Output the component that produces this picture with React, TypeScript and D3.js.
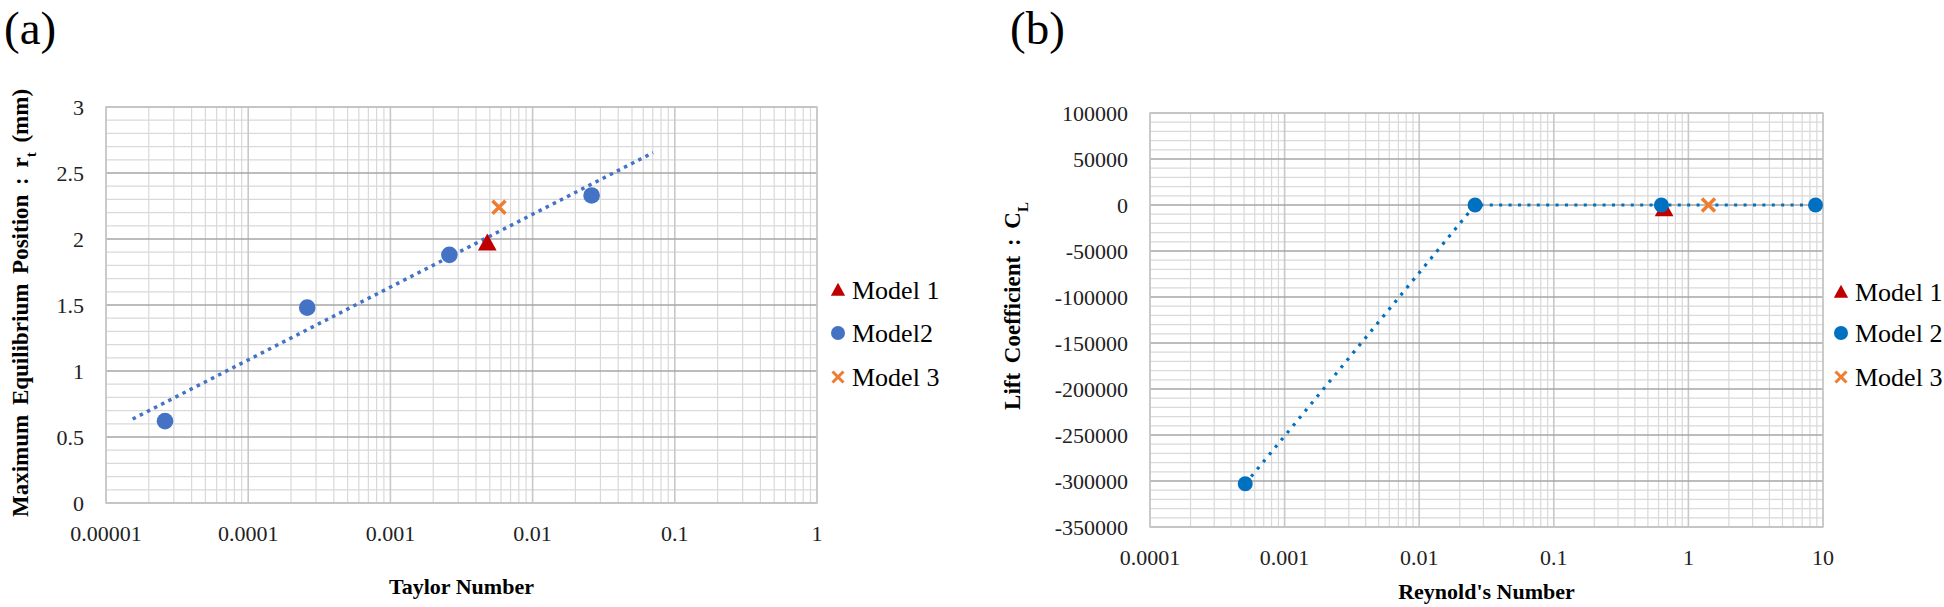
import React from 'react'
import * as d3 from 'd3'

// (a) Taylor number vs maximum equilibrium position
const taylorModel1 = [{ x: 0.0048, y: 1.97 }]
const taylorModel2 = [
  { x: 0.000026, y: 0.62 },
  { x: 0.00026, y: 1.48 },
  { x: 0.0026, y: 1.88 },
  { x: 0.026, y: 2.33 },
]
const taylorModel3 = [{ x: 0.0058, y: 2.24 }]
const taylorTrend = [
  { x: 0.0000154, y: 0.636 },
  { x: 0.0703, y: 2.654 },
]
const taylorXTicks = [0.00001, 0.0001, 0.001, 0.01, 0.1, 1]
const taylorYTicks = [0, 0.5, 1, 1.5, 2, 2.5, 3]
const taylorLegend = ['Model 1', 'Model2', 'Model 3']

// (b) Reynold's number vs lift coefficient
const reynoldsModel1 = [{ x: 0.66, y: -4000 }]
const reynoldsModel2 = [
  { x: 0.00051, y: -303000 },
  { x: 0.026, y: 0 },
  { x: 0.63, y: 0 },
  { x: 8.8, y: 0 },
]
const reynoldsModel3 = [{ x: 1.41, y: 0 }]
const reynoldsXTicks = [0.0001, 0.001, 0.01, 0.1, 1, 10]
const reynoldsYTicks = [100000, 50000, 0, -50000, -100000, -150000, -200000, -250000, -300000, -350000]
const reynoldsLegend = ['Model 1', 'Model 2', 'Model 3']

const FONT = "'Liberation Serif', 'Times New Roman', serif"
const RED = '#C00000'
const ORANGE = '#ED7D31'

type Pt = { x: number; y: number }

const Triangle = ({ cx, cy, s }: { cx: number; cy: number; s: number }) => (
  <path
    d={`M${cx},${cy - s * 0.55}L${cx + s * 0.55},${cy + s * 0.45}L${cx - s * 0.55},${cy + s * 0.45}Z`}
    fill={RED}
  />
)

const Cross = ({ cx, cy, s, w }: { cx: number; cy: number; s: number; w: number }) => (
  <path
    d={`M${cx - s},${cy - s}L${cx + s},${cy + s}M${cx - s},${cy + s}L${cx + s},${cy - s}`}
    stroke={ORANGE}
    strokeWidth={w}
    fill="none"
  />
)

type PanelProps = {
  box: { left: number; top: number; right: number; bottom: number }
  xTicks: number[]
  yTicks: number[]
  yMinor: number
  model1: Pt[]
  model2: Pt[]
  model3: Pt[]
  blue: string
  line: Pt[]
  lineDash: string
  lineWidth: number
  circleR: number
  legend: string[]
  legendX: number
  legendY: number[]
  letter: string
  letterX: number
  xTitle: string
  xTitleY: number
  yTitle: React.ReactNode
  yTitleX: number
  yTitleY: number
}

const Panel = (p: PanelProps) => {
  const { left, top, right, bottom } = p.box
  const x = d3
    .scaleLog()
    .domain([p.xTicks[0], p.xTicks[p.xTicks.length - 1]])
    .range([left, right])
  const yExt = d3.extent(p.yTicks) as [number, number]
  const y = d3.scaleLinear().domain(yExt).range([bottom, top])

  const xMinor: number[] = []
  p.xTicks.slice(0, -1).forEach((d) => {
    for (let k = 2; k <= 9; k++) xMinor.push(d * k)
  })
  const yMinor = d3
    .range(yExt[0], yExt[1] + p.yMinor / 2, p.yMinor)
    .filter((v) => !p.yTicks.some((t) => Math.abs(t - v) < p.yMinor / 2))

  const line = d3
    .line<Pt>()
    .x((d) => x(d.x))
    .y((d) => y(d.y))

  return (
    <g fontFamily={FONT}>
      <text x={p.letterX} y={44} fontSize={47}>
        {p.letter}
      </text>

      {/* minor grid */}
      {xMinor.map((v, i) => (
        <line key={'xm' + i} x1={x(v)} x2={x(v)} y1={top} y2={bottom} stroke="#D9D9D9" strokeWidth={1.2} />
      ))}
      {yMinor.map((v, i) => (
        <line key={'ym' + i} x1={left} x2={right} y1={y(v)} y2={y(v)} stroke="#D9D9D9" strokeWidth={1.2} />
      ))}
      {/* major grid */}
      {p.xTicks.map((v, i) => (
        <line key={'xM' + i} x1={x(v)} x2={x(v)} y1={top} y2={bottom} stroke="#C8C8C8" strokeWidth={1.6} />
      ))}
      {p.yTicks.map((v, i) => (
        <line key={'yM' + i} x1={left} x2={right} y1={y(v)} y2={y(v)} stroke="#A6A6A6" strokeWidth={1.6} />
      ))}
      <rect x={left} y={top} width={right - left} height={bottom - top} fill="none" stroke="#C8C8C8" strokeWidth={1.5} />

      {/* tick labels */}
      {p.yTicks.map((v, i) => (
        <text key={'yl' + i} x={left - 22} y={y(v)} dy="0.35em" textAnchor="end" fontSize={22} fill="#222">
          {String(v)}
        </text>
      ))}
      {p.xTicks.map((v, i) => (
        <text key={'xl' + i} x={x(v)} y={bottom + 30} dy="0.35em" textAnchor="middle" fontSize={22} fill="#222">
          {String(v)}
        </text>
      ))}

      {/* axis titles */}
      <text x={(left + right) / 2} y={p.xTitleY} textAnchor="middle" fontSize={22} fontWeight="bold">
        {p.xTitle}
      </text>
      <text
        transform={`translate(${p.yTitleX},${p.yTitleY}) rotate(-90)`}
        textAnchor="middle"
        dy="0.35em"
        fontSize={23}
        fontWeight="bold"
        wordSpacing={4}
      >
        {p.yTitle}
      </text>

      {/* connecting / trend line */}
      <path
        d={line(p.line) || ''}
        fill="none"
        stroke={p.blue}
        strokeWidth={p.lineWidth}
        strokeDasharray={p.lineDash}
      />

      {/* markers */}
      {p.model1.map((d, i) => (
        <Triangle key={'m1' + i} cx={x(d.x)} cy={y(d.y)} s={17} />
      ))}
      {p.model2.map((d, i) => (
        <circle key={'m2' + i} cx={x(d.x)} cy={y(d.y)} r={p.circleR} fill={p.blue} />
      ))}
      {p.model3.map((d, i) => (
        <Cross key={'m3' + i} cx={x(d.x)} cy={y(d.y)} s={6.5} w={3.5} />
      ))}

      {/* legend */}
      <Triangle cx={p.legendX} cy={p.legendY[0]} s={13} />
      <circle cx={p.legendX} cy={p.legendY[1]} r={7} fill={p.blue} />
      <Cross cx={p.legendX} cy={p.legendY[2]} s={5.5} w={3} />
      {p.legend.map((t, i) => (
        <text key={'lg' + i} x={p.legendX + 14} y={p.legendY[i]} dy="0.35em" fontSize={26}>
          {t}
        </text>
      ))}
    </g>
  )
}

const App = () => {
  return (
    <div style={{ position: 'absolute', left: 0, top: 0 }}>
      <svg width={1944} height={607} style={{ display: 'block', background: '#fff' }}>
        <Panel
          box={{ left: 106, top: 107, right: 817, bottom: 503 }}
          xTicks={taylorXTicks}
          yTicks={taylorYTicks}
          yMinor={0.1}
          model1={taylorModel1}
          model2={taylorModel2}
          model3={taylorModel3}
          blue="#4472C4"
          line={taylorTrend}
          lineDash="3.5 4.5"
          lineWidth={3.5}
          circleR={8.3}
          legend={taylorLegend}
          legendX={838}
          legendY={[290, 333, 377]}
          letter="(a)"
          letterX={4}
          xTitle="Taylor Number"
          xTitleY={594}
          yTitle={
            <>
              Maximum Equilibrium Position : r
              <tspan fontSize={15} baselineShift="sub">
                t
              </tspan>{' '}
              (mm)
            </>
          }
          yTitleX={20}
          yTitleY={303}
        />
        <Panel
          box={{ left: 1150, top: 113, right: 1823, bottom: 527 }}
          xTicks={reynoldsXTicks}
          yTicks={reynoldsYTicks}
          yMinor={10000}
          model1={reynoldsModel1}
          model2={reynoldsModel2}
          model3={reynoldsModel3}
          blue="#0070C0"
          line={reynoldsModel2}
          lineDash="3 6.4"
          lineWidth={3.2}
          circleR={7.5}
          legend={reynoldsLegend}
          legendX={1841}
          legendY={[292, 333, 377]}
          letter="(b)"
          letterX={1010}
          xTitle="Reynold's Number"
          xTitleY={599}
          yTitle={
            <>
              Lift Coefficient : C
              <tspan fontSize={15} baselineShift="sub">
                L
              </tspan>
            </>
          }
          yTitleX={1012}
          yTitleY={306}
        />
      </svg>
    </div>
  )
}

export default App
